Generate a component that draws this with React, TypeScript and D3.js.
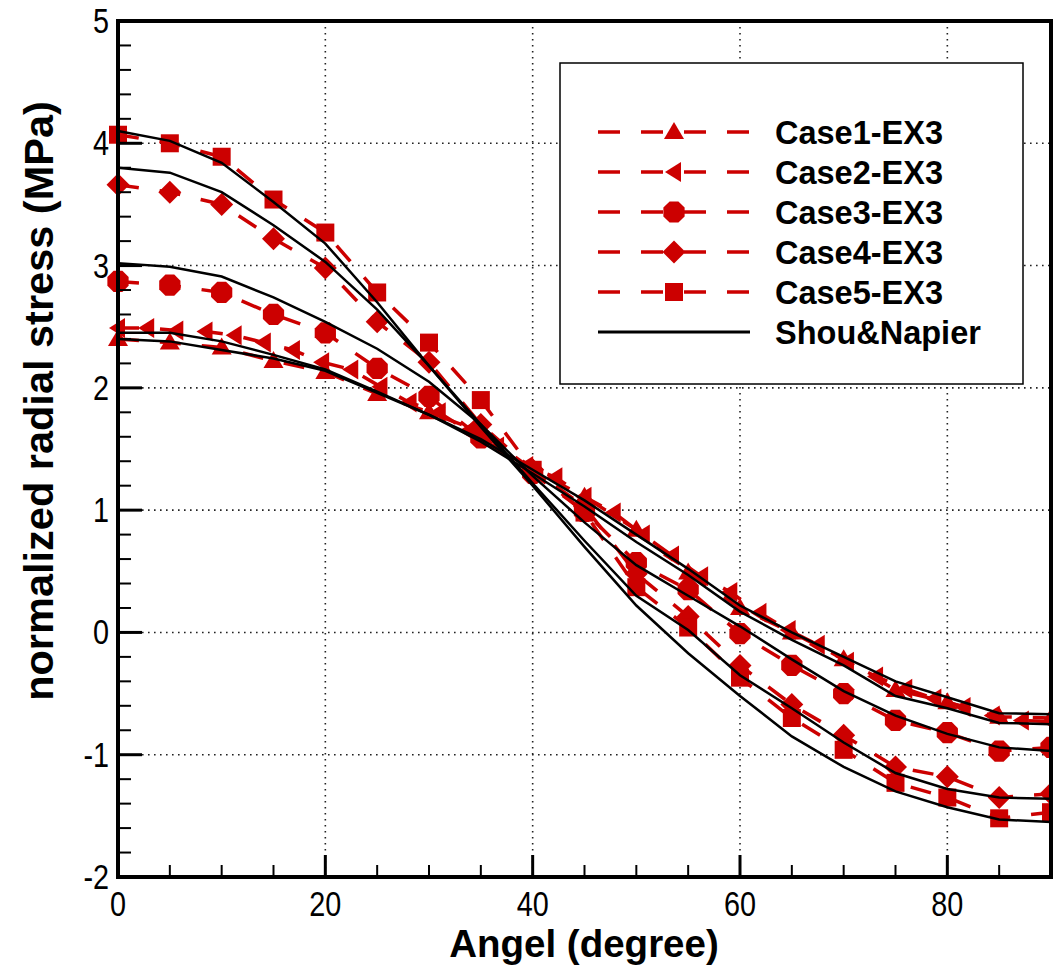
import * as d3 from "d3";

// angles (degree) shared by the 5-degree series
const angles = [0, 5, 10, 15, 20, 25, 30, 35, 40, 45, 50, 55, 60, 65, 70, 75, 80, 85, 90];
// Case2 was sampled on a finer grid
const anglesCase2 = [
  0, 2.8125, 5.625, 8.4375, 11.25, 14.0625, 16.875, 19.6875, 22.5, 25.3125, 28.125,
  30.9375, 33.75, 36.5625, 39.375, 42.1875, 45, 47.8125, 50.625, 53.4375, 56.25,
  59.0625, 61.875, 64.6875, 67.5, 70.3125, 73.125, 75.9375, 78.75, 81.5625, 84.375,
  87.1875, 90,
];

const case1 = [2.4, 2.37, 2.33, 2.22, 2.13, 1.95, 1.8, 1.64, 1.33, 1.11, 0.84, 0.49, 0.2, 0.0, -0.22, -0.47, -0.57, -0.69, -0.7];
const case2 = [
  2.49, 2.49, 2.47, 2.46, 2.43, 2.37, 2.31, 2.21, 2.15, 2.01, 1.88, 1.8, 1.65, 1.52,
  1.36, 1.27, 1.11, 0.98, 0.8, 0.63, 0.46, 0.33, 0.16, 0.02, -0.1, -0.24, -0.36, -0.46,
  -0.54, -0.61, -0.68, -0.72, -0.73,
];
const case3 = [2.87, 2.84, 2.78, 2.6, 2.45, 2.16, 1.93, 1.59, 1.3, 0.99, 0.57, 0.35, -0.01, -0.27, -0.5, -0.72, -0.82, -0.97, -0.94];
const case4 = [3.66, 3.6, 3.5, 3.22, 2.98, 2.54, 2.21, 1.7, 1.33, 1.03, 0.48, 0.13, -0.27, -0.59, -0.84, -1.1, -1.18, -1.35, -1.32];
const case5 = [4.07, 4.0, 3.89, 3.54, 3.27, 2.78, 2.37, 1.9, 1.33, 0.98, 0.37, 0.04, -0.37, -0.7, -0.96, -1.23, -1.35, -1.52, -1.47];

// Shou & Napier solution, one curve per case
const shou1 = [2.4, 2.38, 2.31, 2.24, 2.14, 1.96, 1.78, 1.58, 1.33, 1.08, 0.8, 0.52, 0.22, 0.0, -0.2, -0.4, -0.53, -0.66, -0.67];
const shou2 = [2.45, 2.45, 2.38, 2.27, 2.15, 1.97, 1.78, 1.56, 1.3, 1.03, 0.74, 0.47, 0.17, -0.06, -0.27, -0.52, -0.62, -0.74, -0.75];
const shou3 = [3.02, 2.99, 2.91, 2.74, 2.54, 2.32, 2.05, 1.7, 1.28, 0.9, 0.55, 0.3, 0.05, -0.22, -0.48, -0.68, -0.83, -0.94, -0.97];
const shou4 = [3.8, 3.76, 3.6, 3.33, 3.03, 2.64, 2.18, 1.7, 1.22, 0.75, 0.3, 0.02, -0.35, -0.62, -0.9, -1.15, -1.28, -1.35, -1.36];
const shou5 = [4.1, 4.02, 3.84, 3.52, 3.18, 2.7, 2.18, 1.68, 1.2, 0.7, 0.22, -0.17, -0.52, -0.85, -1.1, -1.3, -1.43, -1.53, -1.55];

const xTicks = [0, 20, 40, 60, 80];
const yTicks = [-2, -1, 0, 1, 2, 3, 4, 5];
const legendLabels = ["Case1-EX3", "Case2-EX3", "Case3-EX3", "Case4-EX3", "Case5-EX3", "Shou&Napier"];

const RED = "#cc0000";
const FONT = "Arial, 'Liberation Sans', Helvetica, sans-serif";

type Shape = "up" | "left" | "circle" | "diamond" | "square";

const markerPath = (shape: Shape) => {
  switch (shape) {
    case "up":
      return "M0,-10L10,7L-10,7Z";
    case "left":
      return "M-9,0L7,-10L7,10Z";
    case "circle": {
      // octagon-ish round marker
      const r = 11.5;
      const pts = d3.range(8).map((i) => {
        const a = (Math.PI / 8) * (2 * i + 1);
        return [r * Math.cos(a), r * Math.sin(a)];
      });
      return "M" + pts.map((p) => p.join(",")).join("L") + "Z";
    }
    case "diamond":
      return "M0,-11.5L11.5,0L0,11.5L-11.5,0Z";
    case "square":
      return "M-9,-9L9,-9L9,9L-9,9Z";
  }
};

const series = [
  { name: legendLabels[0], xs: angles, ys: case1, shape: "up" as Shape },
  { name: legendLabels[1], xs: anglesCase2, ys: case2, shape: "left" as Shape },
  { name: legendLabels[2], xs: angles, ys: case3, shape: "circle" as Shape },
  { name: legendLabels[3], xs: angles, ys: case4, shape: "diamond" as Shape },
  { name: legendLabels[4], xs: angles, ys: case5, shape: "square" as Shape },
];
const shouCurves = [shou1, shou2, shou3, shou4, shou5];

export default function App() {
  const width = 1053;
  const height = 975;
  const x = d3.scaleLinear().domain([0, 90]).range([118, 1051]);
  const y = d3.scaleLinear().domain([-2, 5]).range([877, 21]);

  const line = d3
    .line<[number, number]>()
    .x((d) => x(d[0]))
    .y((d) => y(d[1]));

  const xMinor = d3.range(0, 91, 5).filter((v) => v % 20 !== 0);
  const yMinor = d3.range(-2, 5.001, 0.2).filter((v) => Math.abs(v - Math.round(v)) > 0.01);

  const legendRows = [132, 172, 212, 252, 292, 332];

  return (
    <svg
      width={width}
      height={height}
      style={{ position: "absolute", left: 0, top: 0, background: "white" }}
      fontFamily={FONT}
    >
      {/* dotted grid */}
      {xTicks.filter((t) => t > 0).map((t) => (
        <line key={"gx" + t} x1={x(t)} x2={x(t)} y1={y(5)} y2={y(-2)} stroke="#222" strokeWidth={1.6} strokeDasharray="1.6,4.4" />
      ))}
      {yTicks.filter((t) => t > -2 && t < 5).map((t) => (
        <line key={"gy" + t} x1={x(0)} x2={x(90)} y1={y(t)} y2={y(t)} stroke="#222" strokeWidth={1.6} strokeDasharray="1.6,4.4" />
      ))}

      {/* red dashed case lines */}
      {series.map((s) => (
        <path
          key={"l" + s.name}
          d={line(s.xs.map((v, i) => [v, s.ys[i]] as [number, number])) || ""}
          fill="none"
          stroke={RED}
          strokeWidth={3.5}
          strokeDasharray="21,21"
        />
      ))}
      {/* markers */}
      {series.map((s) =>
        s.xs.map((v, i) => (
          <path key={s.name + i} d={markerPath(s.shape)} transform={`translate(${x(v)},${y(s.ys[i])})`} fill={RED} />
        ))
      )}

      {/* Shou & Napier curves */}
      {shouCurves.map((c, k) => (
        <path
          key={"s" + k}
          d={line(angles.map((v, i) => [v, c[i]] as [number, number])) || ""}
          fill="none"
          stroke="black"
          strokeWidth={2.5}
        />
      ))}

      {/* frame */}
      <rect x={x(0)} y={y(5)} width={x(90) - x(0)} height={y(-2) - y(5)} fill="none" stroke="black" strokeWidth={4} />

      {/* ticks */}
      {xTicks.map((t) => (
        <line key={"xt" + t} x1={x(t)} x2={x(t)} y1={y(-2)} y2={y(-2) - 22} stroke="black" strokeWidth={3} />
      ))}
      {xMinor.map((t) => (
        <line key={"xm" + t} x1={x(t)} x2={x(t)} y1={y(-2)} y2={y(-2) - 12} stroke="black" strokeWidth={2} />
      ))}
      {yTicks.map((t) => (
        <line key={"yt" + t} x1={x(0)} x2={x(0) + 24} y1={y(t)} y2={y(t)} stroke="black" strokeWidth={3} />
      ))}
      {yMinor.map((t, i) => (
        <line key={"ym" + i} x1={x(0)} x2={x(0) + 13} y1={y(t)} y2={y(t)} stroke="black" strokeWidth={2} />
      ))}

      {/* tick labels (narrow, tall digits) */}
      {xTicks.map((t) => (
        <text
          key={"xl" + t}
          transform={`translate(${x(t)},${y(-2) + 39}) scale(0.8,1)`}
          textAnchor="middle"
          fontSize={36}
        >
          {t}
        </text>
      ))}
      {yTicks.map((t) => (
        <text
          key={"yl" + t}
          transform={`translate(${x(0) - 9},${y(t) + 12}) scale(0.8,1)`}
          textAnchor="end"
          fontSize={36}
        >
          {t}
        </text>
      ))}

      {/* axis titles */}
      <text x={584} y={957} textAnchor="middle" fontSize={38.5} fontWeight="bold">
        Angel (degree)
      </text>
      <text transform="translate(53,401) rotate(-90)" textAnchor="middle" fontSize={41.5} fontWeight="bold">
        normalized radial stress (MPa)
      </text>

      {/* legend */}
      <rect x={560} y={63} width={463} height={321} fill="white" stroke="black" strokeWidth={1.5} />
      {series.map((s, i) => (
        <g key={"lg" + s.name}>
          <line x1={598} x2={750} y1={legendRows[i]} y2={legendRows[i]} stroke={RED} strokeWidth={3.5} strokeDasharray="22,21" />
          <path d={markerPath(s.shape)} transform={`translate(674,${legendRows[i]})`} fill={RED} />
          <text x={775} y={legendRows[i]} dy="0.37em" fontSize={32.5} fontWeight="bold">
            {s.name}
          </text>
        </g>
      ))}
      <line x1={598} x2={750} y1={legendRows[5]} y2={legendRows[5]} stroke="black" strokeWidth={3} />
      <text x={775} y={legendRows[5]} dy="0.37em" fontSize={32.5} fontWeight="bold">
        {legendLabels[5]}
      </text>
    </svg>
  );
}
